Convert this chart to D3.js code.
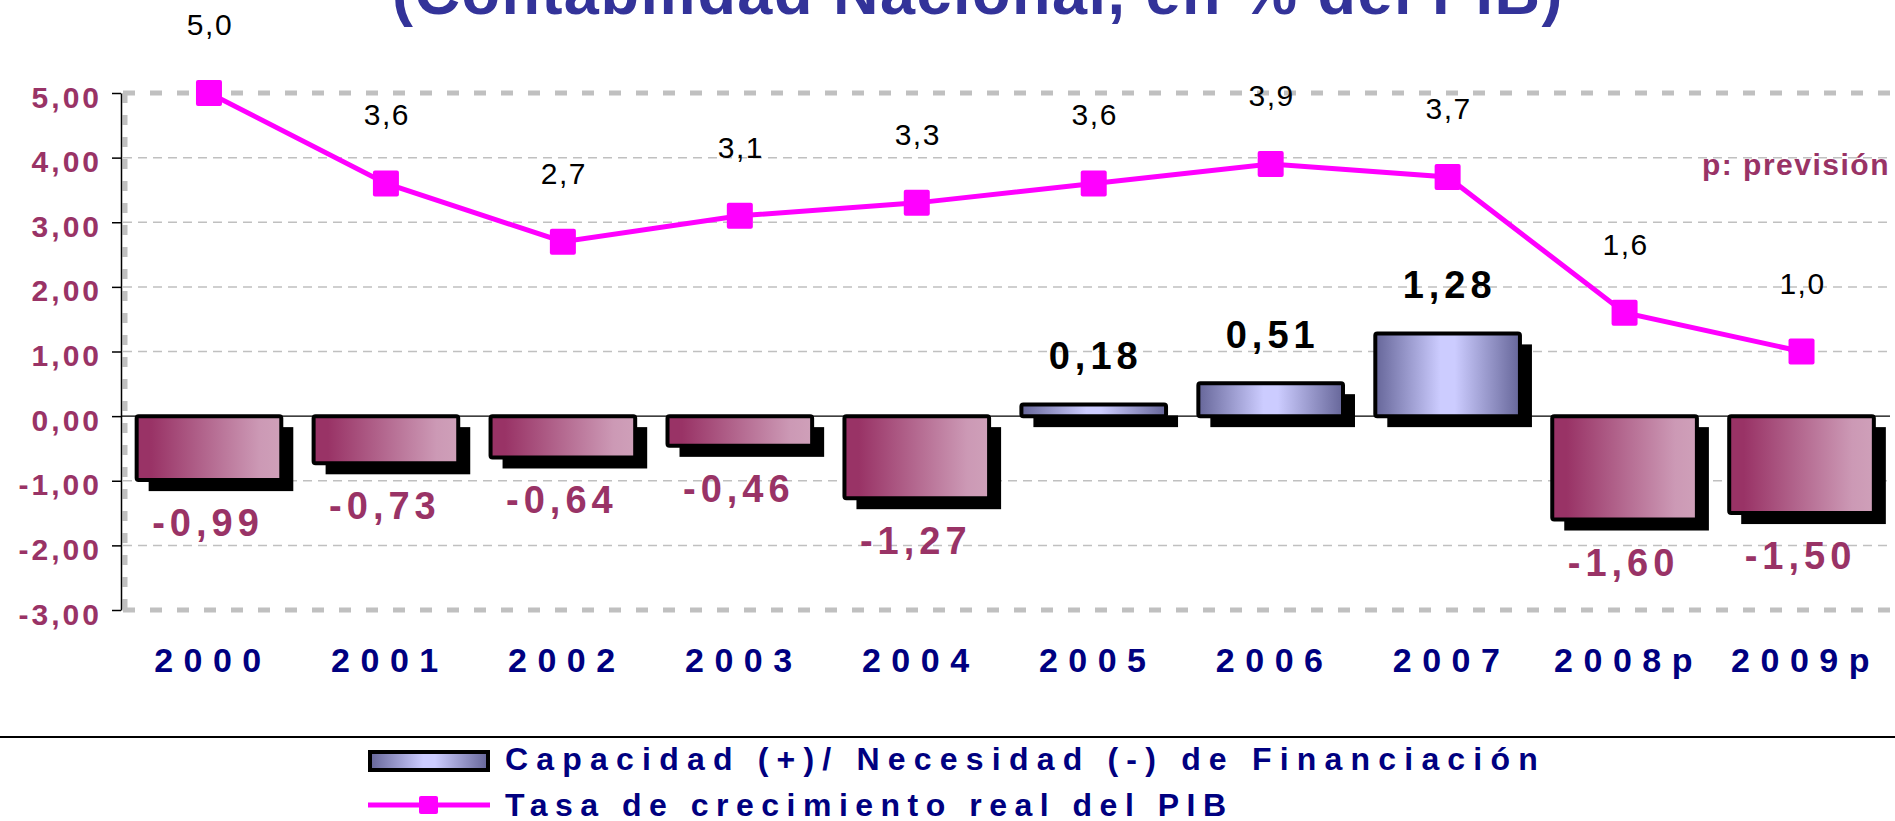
<!DOCTYPE html>
<html lang="es">
<head>
  <meta charset="UTF-8">
  <title>Capacidad / Necesidad de Financiación</title>
  <script src="https://d3js.org/d3.v7.min.js"></script>
  <style>
    body { margin: 0; background: #fff; font-family: Arial, "Liberation Sans", sans-serif; }
    svg { display: block; }
  </style>
</head>
<body>
  <div id="chart"></div>
  <script>
    // data
    const years = ["2000", "2001", "2002", "2003", "2004", "2005", "2006", "2007", "2008p", "2009p"];
    const financiacion = [-0.99, -0.73, -0.64, -0.46, -1.27, 0.18, 0.51, 1.28, -1.60, -1.50];
    const pib = [5.0, 3.6, 2.7, 3.1, 3.3, 3.6, 3.9, 3.7, 1.6, 1.0];
    const yTicks = [5, 4, 3, 2, 1, 0, -1, -2, -3];

    const width = 1895;
    const height = 821;
    const plotLeft = 121, plotRight = 1890, plotTop = 93, plotBottom = 610;

    // spanish decimals, plain hyphen for negatives
    const comma = f => v => d3.format(f)(v).replace(".", ",").replace("\u2212", "-");

    const svg = d3.select("#chart")
      .append("svg")
      .attr("width", width)
      .attr("height", height);

    // gradients
    const defs = svg.append("defs");
    const neg = defs.append("linearGradient").attr("id", "gNeg");
    neg.append("stop").attr("offset", "0%").attr("stop-color", "#993366");
    neg.append("stop").attr("offset", "10%").attr("stop-color", "#993366");
    neg.append("stop").attr("offset", "85%").attr("stop-color", "#CC99B5");
    neg.append("stop").attr("offset", "100%").attr("stop-color", "#CFA0B9");
    const pos = defs.append("linearGradient").attr("id", "gPos");
    pos.append("stop").attr("offset", "0%").attr("stop-color", "#666699");
    pos.append("stop").attr("offset", "45%").attr("stop-color", "#CCCCFF");
    pos.append("stop").attr("offset", "55%").attr("stop-color", "#CCCCFF");
    pos.append("stop").attr("offset", "100%").attr("stop-color", "#666699");

    // title (only its lower part shows)
    svg.append("text")
      .attr("x", 978)
      .attr("y", 14)
      .attr("text-anchor", "middle")
      .attr("font-size", 63)
      .attr("font-weight", "bold")
      .attr("letter-spacing", 1.5)
      .attr("fill", "#333399")
      .text("(Contabilidad Nacional, en % del PIB)");

    // scales
    const x = d3.scaleBand()
      .domain(years)
      .range([plotLeft - 0.5, plotRight])
      .paddingInner(0.16)
      .paddingOuter(0.08);

    const y = d3.scaleLinear()
      .domain([-3, 5])
      .range([plotBottom, plotTop]);

    // grid
    svg.append("g")
      .selectAll("line")
      .data(yTicks.filter(t => t !== 0))
      .join("line")
      .attr("x1", plotLeft + 2)
      .attr("x2", plotRight)
      .attr("y1", d => y(d))
      .attr("y2", d => y(d))
      .attr("stroke", "#C0C0C0")
      .attr("stroke-width", d => (d === 5 || d === -3) ? 5 : 1.5)
      .attr("stroke-dasharray", d => (d === 5 || d === -3) ? "12,15" : "9,6");

    svg.append("line")
      .attr("x1", plotLeft + 4).attr("x2", plotLeft + 4)
      .attr("y1", y(5)).attr("y2", y(-3))
      .attr("stroke", "#C0C0C0")
      .attr("stroke-width", 5)
      .attr("stroke-dasharray", "10,12");

    // zero line
    svg.append("line")
      .attr("x1", plotLeft).attr("x2", plotRight)
      .attr("y1", y(0)).attr("y2", y(0))
      .attr("stroke", "#000")
      .attr("stroke-width", 1.2);

    // y axis
    const yAxis = d3.axisLeft(y)
      .tickValues(yTicks)
      .tickSize(9)
      .tickSizeOuter(0)
      .tickFormat(comma(".2f"));

    const ya = svg.append("g")
      .attr("transform", `translate(${plotLeft},0)`)
      .call(yAxis);
    ya.select(".domain").attr("stroke", "#000").attr("stroke-width", 1.5);
    ya.selectAll(".tick line").attr("stroke", "#000").attr("stroke-width", 1.5);
    ya.selectAll(".tick text")
      .attr("x", -19)
      .attr("dy", 14)
      .attr("font-family", "Arial, 'Liberation Sans', sans-serif")
      .attr("font-size", 30)
      .attr("font-weight", "bold")
      .attr("letter-spacing", 3)
      .attr("fill", "#993366");

    // bars
    const bars = years.map((yr, i) => ({ yr, v: financiacion[i] }));
    const bw = x.bandwidth();
    const sw = 4;

    svg.append("g")
      .selectAll("rect")
      .data(bars)
      .join("rect")
      .attr("x", d => x(d.yr) + sw / 2 + 12)
      .attr("y", d => Math.min(y(0), y(d.v)) + 11)
      .attr("width", bw - sw)
      .attr("height", d => Math.abs(y(d.v) - y(0)))
      .attr("fill", "#000");

    svg.append("g")
      .selectAll("rect")
      .data(bars)
      .join("rect")
      .attr("x", d => x(d.yr) + sw / 2)
      .attr("y", d => Math.min(y(0), y(d.v)))
      .attr("width", bw - sw)
      .attr("height", d => Math.abs(y(d.v) - y(0)))
      .attr("rx", 2)
      .attr("fill", d => d.v < 0 ? "url(#gNeg)" : "url(#gPos)")
      .attr("stroke", "#000")
      .attr("stroke-width", sw);

    svg.append("g")
      .selectAll("text")
      .data(bars)
      .join("text")
      .attr("x", d => x(d.yr) + bw / 2 + (d.v < 0 ? -1 : 2))
      .attr("y", d => d.v < 0 ? y(d.v) + 56 : y(d.v) - 35)
      .attr("text-anchor", "middle")
      .attr("font-size", 38)
      .attr("font-weight", "bold")
      .attr("letter-spacing", 5)
      .attr("fill", d => d.v < 0 ? "#993366" : "#000")
      .text(d => comma(".2f")(d.v));

    // x labels
    svg.append("g")
      .selectAll("text")
      .data(years)
      .join("text")
      .attr("x", d => x(d) + bw / 2 + 4)
      .attr("y", 672)
      .attr("text-anchor", "middle")
      .attr("font-size", 34)
      .attr("font-weight", "bold")
      .attr("letter-spacing", 10.5)
      .attr("fill", "#000080")
      .text(d => d);

    // PIB line
    const pts = years.map((yr, i) => ({ yr, v: pib[i] }));
    const line = d3.line()
      .x(d => x(d.yr) + bw / 2)
      .y(d => y(d.v));

    svg.append("path")
      .datum(pts)
      .attr("d", line)
      .attr("fill", "none")
      .attr("stroke", "#FF00FF")
      .attr("stroke-width", 5);

    svg.append("g")
      .selectAll("rect")
      .data(pts)
      .join("rect")
      .attr("x", d => x(d.yr) + bw / 2 - 13)
      .attr("y", d => y(d.v) - 13)
      .attr("width", 26)
      .attr("height", 26)
      .attr("rx", 2)
      .attr("fill", "#FF00FF");

    svg.append("g")
      .selectAll("text")
      .data(pts)
      .join("text")
      .attr("x", d => x(d.yr) + bw / 2 + 1)
      .attr("y", d => y(d.v) - 58)
      .attr("text-anchor", "middle")
      .attr("font-size", 30)
      .attr("letter-spacing", 1.5)
      .attr("fill", "#000")
      .text(d => comma(".1f")(d.v));

    svg.append("text")
      .attr("x", 1890)
      .attr("y", 175)
      .attr("text-anchor", "end")
      .attr("font-size", 30)
      .attr("font-weight", "bold")
      .attr("letter-spacing", 1.5)
      .attr("fill", "#993366")
      .text("p: previsión");

    // legend
    svg.append("line")
      .attr("x1", 0).attr("x2", width)
      .attr("y1", 737).attr("y2", 737)
      .attr("stroke", "#000")
      .attr("stroke-width", 2);

    const lg = svg.append("g");
    lg.append("rect")
      .attr("x", 370).attr("y", 752)
      .attr("width", 118).attr("height", 18)
      .attr("fill", "url(#gPos)")
      .attr("stroke", "#000")
      .attr("stroke-width", 4);
    lg.append("line")
      .attr("x1", 368).attr("x2", 490)
      .attr("y1", 805).attr("y2", 805)
      .attr("stroke", "#FF00FF")
      .attr("stroke-width", 5);
    lg.append("rect")
      .attr("x", 419).attr("y", 796)
      .attr("width", 19).attr("height", 18)
      .attr("rx", 2)
      .attr("fill", "#FF00FF");

    const legendText = ["Capacidad (+)/ Necesidad (-) de Financiación", "Tasa de crecimiento real del PIB"];
    lg.selectAll("text")
      .data(legendText)
      .join("text")
      .attr("x", 505)
      .attr("y", (d, i) => i === 0 ? 770 : 816)
      .attr("font-size", 32)
      .attr("font-weight", "bold")
      .attr("letter-spacing", (d, i) => i === 0 ? 8.2 : 7.5)
      .attr("fill", "#000080")
      .text(d => d);
  </script>
</body>
</html>
